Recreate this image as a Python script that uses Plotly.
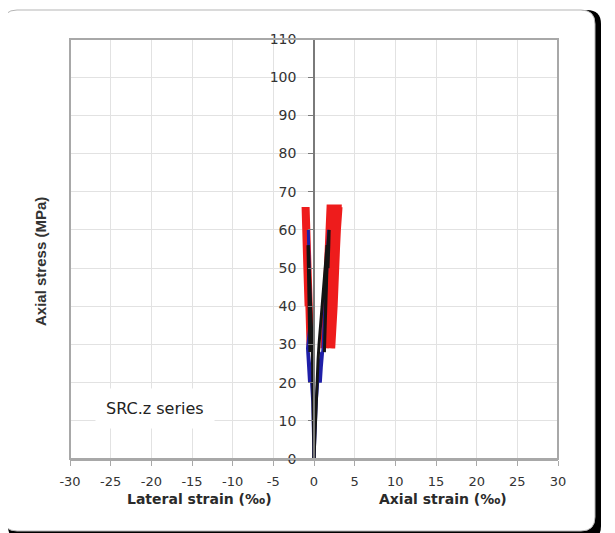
import plotly.graph_objects as go

# ---------------- data ----------------
x_ticks = [-30, -25, -20, -15, -10, -5, 0, 5, 10, 15, 20, 25, 30]
x_ticklabels = ["-30", "-25", "-20", "-15", "-10", "-5", "0", "5", "10", "15", "20", "25", "30"]
y_ticks = [0, 10, 20, 30, 40, 50, 60, 70, 80, 90, 100, 110]

# black series: first loading and a couple of cycles
black_stress = [0, 3, 6, 10, 14, 18, 22, 26, 30, 34, 38, 42, 46, 50, 54, 56, 52, 45, 35, 28, 35, 45, 52, 56]
black_lateral = [0, -0.02, -0.04, -0.06, -0.08, -0.1, -0.13, -0.17, -0.22, -0.3, -0.38, -0.46, -0.54, -0.6, -0.66, -0.7, -0.68, -0.64, -0.56, -0.5, -0.55, -0.62, -0.68, -0.74]
black_axial = [0, 0.05, 0.1, 0.17, 0.24, 0.32, 0.4, 0.5, 0.62, 0.76, 0.9, 1.05, 1.2, 1.36, 1.52, 1.6, 1.56, 1.48, 1.36, 1.28, 1.36, 1.5, 1.62, 1.72]
black_top_stress = [56, 58, 60, 56, 50]
black_top_axial = [1.72, 1.8, 1.86, 1.82, 1.72]

# blue series: loading to ~30 MPa with cycles, then up to 60 MPa
blue_stress = [0, 5, 10, 15, 20, 24, 28, 24, 20, 24, 29, 35, 42, 50, 56, 60]
blue_lateral = [0, -0.04, -0.09, -0.16, -0.3, -0.5, -0.7, -0.64, -0.55, -0.62, -0.8, -0.5, -0.5, -0.6, -0.66, -0.7]
blue_axial = [0, 0.08, 0.16, 0.28, 0.45, 0.65, 0.95, 0.88, 0.78, 0.9, 1.1, 1.25, 1.42, 1.58, 1.7, 1.8]

# red series: cycles between ~29 and ~66 MPa
red_lat_stress = [29, 40, 50, 60, 66, 60, 50, 40, 29, 40, 50, 60, 66, 60, 50, 40, 29, 40, 50, 60, 66, 60, 50, 40, 29, 40, 50, 60, 66]
red_lateral = [-0.3, -0.45, -0.6, -0.75, -0.85, -0.8, -0.7, -0.6, -0.45, -0.58, -0.72, -0.88, -0.98, -0.92, -0.82, -0.72, -0.6, -0.72, -0.86, -1.0, -1.1, -1.05, -0.95, -0.85, -0.75, -0.85, -1.0, -1.12, -1.22]
red_ax_stress = [29, 40, 50, 60, 66, 66, 60, 50, 40, 29, 40, 50, 60, 66, 66, 60, 50, 40, 29, 40, 50, 60, 66, 66, 60, 50, 40, 29, 40, 50, 60, 66, 66]
red_axial = [1.1, 1.3, 1.5, 1.7, 1.85, 2.1, 2.0, 1.85, 1.7, 1.5, 1.7, 1.95, 2.2, 2.4, 2.65, 2.55, 2.4, 2.2, 1.95, 2.15, 2.4, 2.7, 2.9, 3.1, 3.0, 2.8, 2.6, 2.3, 2.5, 2.75, 3.0, 3.2, 3.4]

RED = "#ee1c1c"
BLUE = "#1f1fa8"
BLACK = "#141414"

fig = go.Figure()
fig.add_trace(go.Scatter(x=red_lateral, y=red_lat_stress, mode="lines", line=dict(color=RED, width=5), showlegend=False))
fig.add_trace(go.Scatter(x=red_axial, y=red_ax_stress, mode="lines", line=dict(color=RED, width=5), showlegend=False))
fig.add_trace(go.Scatter(x=blue_lateral, y=blue_stress, mode="lines", line=dict(color=BLUE, width=3), showlegend=False))
fig.add_trace(go.Scatter(x=blue_axial, y=blue_stress, mode="lines", line=dict(color=BLUE, width=3), showlegend=False))
fig.add_trace(go.Scatter(x=black_lateral, y=black_stress, mode="lines", line=dict(color=BLACK, width=3), showlegend=False))
fig.add_trace(go.Scatter(x=black_axial, y=black_stress, mode="lines", line=dict(color=BLACK, width=3), showlegend=False))
fig.add_trace(go.Scatter(x=black_top_axial, y=black_top_stress, mode="lines", line=dict(color=BLACK, width=3), showlegend=False))

# ---------------- geometry (page has an 8px body margin) ----------------
OFF = 8
FW, FH = 615 - OFF, 533 - OFF
L, R, T, B = 70 - OFF, 558 - OFF, 39 - OFF, 459 - OFF
W, H = R - L, B - T


def px(xp):
    return (xp - OFF - L) / W


def py(yp):
    return (B - (yp - OFF)) / H


def rounded(x0, y0, x1, y1, r):
    rx, ry = r / W, r / H
    a, b, c, d = px(x0), px(x1), py(y0), py(y1)  # c top, d bottom
    return (f"M {a+rx},{c} L {b-rx},{c} Q {b},{c} {b},{c-ry} L {b},{d+ry} Q {b},{d} {b-rx},{d} "
            f"L {a+rx},{d} Q {a},{d} {a},{d+ry} L {a},{c-ry} Q {a},{c} {a+rx},{c} Z")


shapes = [
    dict(type="path", xref="paper", yref="paper", path=rounded(8, 10, 601, 540, 14),
         fillcolor="#000000", line=dict(width=0), layer="below"),
    dict(type="path", xref="paper", yref="paper", path=rounded(3, 10, 595, 531, 14),
         fillcolor="#ffffff", line=dict(color="#b5b5b5", width=1), layer="below"),
    dict(type="rect", xref="paper", yref="paper", x0=0, y0=0, x1=1, y1=1,
         line=dict(color="#a8a8a8", width=2), layer="above"),
]

xtickfont = dict(family="DejaVu Sans, sans-serif", size=13, color="#333333")
ytickfont = dict(family="DejaVu Sans, sans-serif", size=14, color="#333333")
titlefont = dict(family="DejaVu Sans, sans-serif", size=14, color="#2a2a2a")

fig.update_layout(
    width=FW, height=FH,
    margin=dict(l=L, r=FW - R, t=T, b=FH - B),
    paper_bgcolor="white",
    plot_bgcolor="rgba(0,0,0,0)",
    shapes=shapes,
    xaxis=dict(range=[-30, 30], tickvals=x_ticks, ticktext=x_ticklabels,
               showgrid=True, gridcolor="#e2e2e2", gridwidth=1, zeroline=False,
               showline=True, linecolor="#a8a8a8", linewidth=2,
               ticks="outside", ticklen=5, tickcolor="#a8a8a8", tickfont=xtickfont,
               ticklabelstandoff=4),
    yaxis=dict(range=[0, 110], tickvals=y_ticks, anchor="free", position=0.5,
               showgrid=True, gridcolor="#e2e2e2", gridwidth=1, zeroline=False,
               showline=True, linecolor="#7a7a7a", linewidth=1.5,
               ticks="outside", ticklen=5, tickcolor="#7a7a7a", tickfont=ytickfont,
               ticklabelstandoff=9),
    annotations=[
        dict(text="<b>Lateral strain (‰)</b>", xref="paper", yref="paper", x=px(199), y=py(499),
             xanchor="center", yanchor="middle", showarrow=False, font=titlefont),
        dict(text="<b>Axial strain (‰)</b>", xref="paper", yref="paper", x=px(443), y=py(499),
             xanchor="center", yanchor="middle", showarrow=False, font=titlefont),
        dict(text="<b>Axial stress (MPa)</b>", xref="paper", yref="paper", x=px(40), y=py(262),
             xanchor="center", yanchor="middle", showarrow=False, textangle=-90,
             font=dict(family="Liberation Sans Narrow, Arial Narrow, Liberation Sans, sans-serif", size=15, color="#333333")),
        dict(text="SRC.z series", xref="paper", yref="paper", x=px(155), y=py(408),
             xanchor="center", yanchor="middle", showarrow=False, bgcolor="white", borderpad=10,
             font=dict(family="DejaVu Sans, sans-serif", size=16, color="#222222")),
    ],
)

fig.write_html("out.html")
